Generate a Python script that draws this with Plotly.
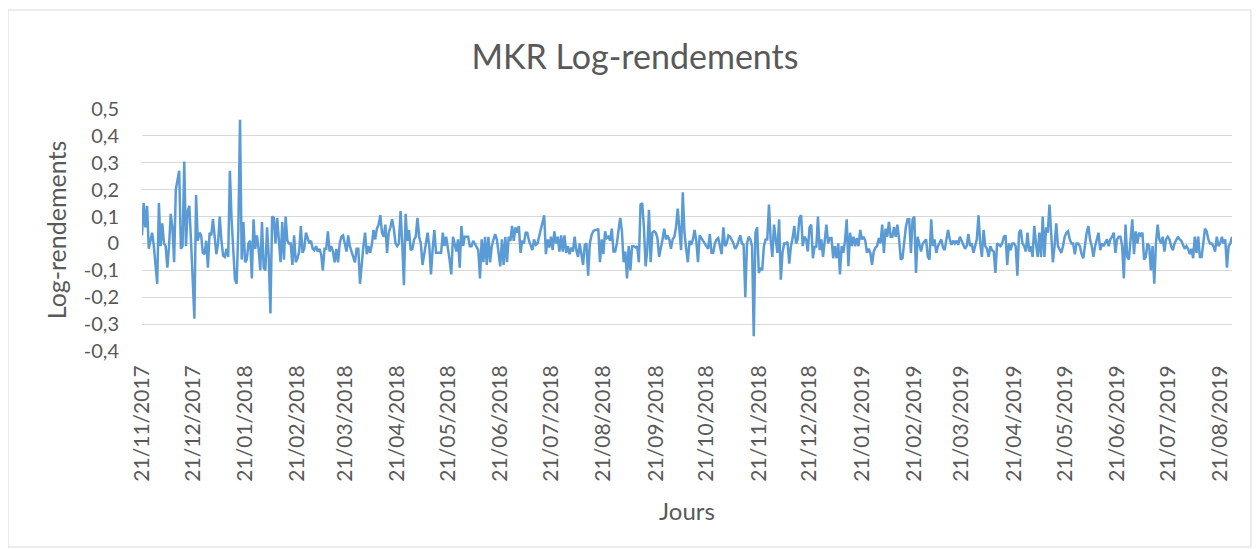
import pandas as pd
import plotly.graph_objects as go

# ---------------- data ----------------
date_debut = "2017-11-21"

log_rend_p1 = [0.03, 0.15, 0.06, 0.14, -0.02, 0.01, 0.04, -0.01, -0.09, -0.15,
               0.15, -0.01, 0.075, 0.0, -0.01, -0.09, -0.01, 0.11, 0.06, -0.07,
               0.2, 0.24, 0.27, -0.02, -0.01, 0.305, -0.01, 0.12, 0.14, 0.01,
               -0.16, -0.28, 0.18, 0.01, 0.04, 0.03, -0.035, -0.04, 0.01, -0.09,
               0.04, 0.03, 0.09, 0.01, -0.04, 0.0, 0.1, 0.01, -0.045, -0.05,
               -0.02, -0.05, 0.27, 0.09, -0.02, -0.135, -0.15, 0.05, 0.46, -0.06,
               0.08, -0.07, -0.06, 0.0, 0.01]
log_rend_p2 = [-0.13, 0.09, -0.02, 0.03, -0.02, -0.1, 0.08, -0.09, -0.1, 0.06,
               -0.05, -0.26, 0.1, 0.095, 0.0, 0.095, -0.01, -0.07, 0.08, -0.06,
               0.1, 0.01, 0.0, 0.0, -0.08, 0.03, -0.07, -0.055, -0.03, 0.065,
               -0.035, -0.02, 0.04, 0.02, 0.0, 0.01, -0.02, -0.025, -0.01, -0.03,
               -0.02, -0.04, -0.1, -0.02, -0.02, 0.045, -0.03, -0.01, -0.03, -0.07,
               -0.02, -0.07, 0.0, 0.025, 0.03, 0.0, -0.03, 0.03, -0.01, -0.03,
               -0.05, -0.07, -0.02, -0.02, -0.15]
log_rend_p3 = [-0.06, -0.01, 0.04, -0.04, -0.01, -0.035, -0.005, 0.05, 0.015, 0.055,
               0.07, 0.105, 0.04, 0.025, 0.07, -0.035, 0.04, 0.06, 0.09, 0.055,
               0.0, -0.01, 0.0, 0.12, 0.0, -0.155, 0.11, 0.01, 0.05, -0.025,
               -0.02, 0.015, 0.025, 0.095, 0.025, 0.0, -0.08, -0.035, 0.015, 0.04,
               -0.01, -0.115, -0.02, 0.05, -0.035, -0.035, -0.035, -0.035, 0.04, -0.01,
               0.025, -0.01, -0.06, -0.115, 0.025, 0.0, -0.03, 0.015, -0.09, 0.065,
               -0.01, 0.025, 0.025, 0.025, -0.01]
log_rend_p4 = [-0.01, 0.01, 0.0, -0.01, -0.025, -0.13, 0.015, -0.07, 0.025, -0.08,
               0.025, -0.07, -0.01, 0.015, 0.035, 0.015, -0.03, -0.085, 0.015, -0.08,
               0.025, -0.07, 0.025, 0.01, 0.065, 0.01, 0.06, 0.04, 0.065, -0.035,
               0.01, 0.0, 0.04, 0.04, 0.01, -0.005, -0.025, 0.015, -0.005, 0.0,
               0.025, 0.045, 0.07, 0.105, -0.04, 0.015, -0.015, 0.025, -0.025, 0.045,
               0.0, 0.025, -0.03, 0.03, -0.03, 0.03, -0.035, -0.01, -0.04, -0.015,
               -0.03, 0.025, -0.025, -0.05, 0.0]
log_rend_p5 = [-0.035, -0.08, -0.005, 0.0, -0.12, 0.0, 0.03, 0.045, 0.05, 0.05,
               0.055, -0.07, 0.015, -0.04, 0.045, 0.02, 0.025, 0.01, 0.055, -0.03,
               -0.03, 0.0, 0.05, 0.095, 0.045, -0.07, -0.03, -0.13, -0.01, -0.1,
               -0.01, -0.01, -0.015, -0.01, -0.07, 0.145, 0.15, 0.06, -0.085, -0.025,
               0.125, -0.07, 0.04, 0.045, 0.04, 0.02, -0.05, -0.02, 0.015, 0.055,
               0.015, 0.03, 0.015, -0.02, 0.015, 0.025, 0.06, 0.13, 0.04, -0.025,
               0.19, 0.04, -0.02, -0.07, 0.01]
log_rend_p6 = [-0.005, 0.015, 0.05, 0.01, -0.07, 0.03, 0.02, 0.01, 0.0, -0.015,
               -0.02, 0.035, -0.035, -0.035, 0.0, 0.015, 0.02, -0.01, -0.04, 0.06,
               -0.01, 0.0, 0.03, 0.025, 0.015, 0.0, -0.02, -0.01, 0.01, 0.03,
               0.0, -0.005, -0.2, 0.0, 0.025, 0.015, -0.01, -0.345, 0.04, 0.06,
               -0.11, -0.09, -0.1, -0.01, 0.015, 0.015, 0.145, 0.015, -0.05, 0.07,
               0.015, -0.035, 0.09, -0.135, -0.035, 0.0, 0.0, 0.005, -0.075, -0.01,
               0.02, 0.065, 0.0, 0.015, 0.095]
log_rend_p7 = [0.105, -0.01, 0.025, 0.015, -0.03, 0.06, 0.07, -0.055, -0.01, -0.015,
               0.1, -0.025, 0.015, -0.05, 0.02, 0.07, 0.0, 0.02, 0.02, -0.055,
               -0.01, -0.055, 0.0, -0.115, -0.01, -0.035, 0.01, 0.09, -0.085, 0.04,
               -0.01, 0.025, -0.01, 0.02, -0.01, 0.05, 0.015, 0.025, 0.01, -0.035,
               -0.02, -0.035, -0.08, -0.03, -0.015, -0.01, 0.02, 0.0, 0.07, -0.035,
               0.055, 0.025, 0.08, 0.025, 0.025, 0.06, 0.025, 0.07, 0.015, -0.06,
               -0.055, 0.0, 0.06, 0.09, 0.09]
log_rend_p8 = [-0.035, 0.09, 0.1, -0.11, 0.025, -0.01, -0.03, 0.0, 0.01, 0.015,
               -0.05, -0.06, 0.09, -0.01, 0.015, -0.035, -0.01, 0.0, 0.015, -0.015,
               -0.025, 0.015, 0.05, 0.015, -0.005, 0.01, 0.0, 0.01, -0.005, 0.025,
               0.01, -0.005, -0.02, -0.01, 0.035, -0.01, 0.0, -0.035, -0.01, 0.015,
               0.105, 0.0, -0.05, 0.05, -0.01, -0.02, -0.05, -0.01, -0.025, -0.03,
               -0.11, 0.0, -0.005, -0.01, 0.0, 0.025, 0.03, -0.08, 0.0, -0.025,
               0.0, 0.0, -0.01, -0.12, 0.04]
log_rend_p9 = [0.05, 0.0, -0.01, -0.03, 0.04, -0.03, -0.01, -0.05, 0.065, 0.0,
               -0.05, 0.04, -0.05, 0.1, -0.05, 0.06, 0.04, 0.145, 0.025, -0.07,
               -0.01, 0.075, -0.01, -0.025, -0.035, -0.01, 0.025, 0.04, 0.045, 0.015,
               0.0, 0.0, -0.04, 0.0, 0.0, -0.01, -0.04, -0.055, 0.0, 0.04,
               0.065, 0.015, -0.01, -0.05, -0.01, 0.015, 0.04, -0.025, 0.0, -0.01,
               0.0, 0.015, -0.01, 0.015, 0.025, 0.04, -0.035, 0.015, 0.025, 0.025,
               -0.01, -0.13, 0.07, -0.05, -0.06]
log_rend_p10 = [0.015, 0.09, -0.04, 0.045, 0.0, 0.04, 0.03, 0.04, -0.06, -0.05,
                0.0, -0.01, -0.1, -0.01, -0.15, 0.0, 0.07, 0.015, 0.0, 0.025,
                -0.03, 0.015, 0.025, 0.015, -0.01, -0.025, 0.0, 0.015, 0.025, 0.015,
                0.01, -0.005, -0.02, -0.01, -0.02, -0.04, -0.02, -0.055, 0.025, -0.035,
                0.025, -0.05, -0.05, 0.0, 0.055, 0.045, 0.015, 0.0, 0.0, -0.01,
                -0.03, 0.025, -0.01, 0.0, 0.025, 0.0, 0.015, -0.09, -0.01, 0.0,
                0.025]

tick_labels = ["21/11/2017", "21/12/2017", "21/01/2018", "21/02/2018", "21/03/2018",
               "21/04/2018", "21/05/2018", "21/06/2018", "21/07/2018", "21/08/2018",
               "21/09/2018", "21/10/2018", "21/11/2018", "21/12/2018", "21/01/2019",
               "21/02/2019", "21/03/2019", "21/04/2019", "21/05/2019", "21/06/2019",
               "21/07/2019", "21/08/2019"]
y_ticks = [-0.4, -0.3, -0.2, -0.1, 0.0, 0.1, 0.2, 0.3, 0.4, 0.5]
y_tick_labels = ["-0,4", "-0,3", "-0,2", "-0,1", "0", "0,1", "0,2", "0,3", "0,4", "0,5"]

# ---------------- build ----------------
values = (log_rend_p1 + log_rend_p2 + log_rend_p3 + log_rend_p4 + log_rend_p5 +
          log_rend_p6 + log_rend_p7 + log_rend_p8 + log_rend_p9 + log_rend_p10)
dates = pd.date_range(date_debut, periods=len(values), freq="D")
tick_dates = pd.to_datetime(tick_labels, format="%d/%m/%Y")

TXT = "#595959"
GRID = "#D9D9D9"
FONT = "Lato"

# the page body has an 8px margin, so the figure is sized to fit inside it
W, H = 1252, 541
ML, MR, MT, MB = 134, 28, 101, 198
PW, PH = W - ML - MR, H - MT - MB

fig = go.Figure()
fig.add_trace(go.Scatter(
    x=dates, y=values, mode="lines",
    line=dict(color="#5B9BD5", width=2.5),
    showlegend=False,
))

fig.update_layout(
    width=W, height=H,
    paper_bgcolor="white", plot_bgcolor="white",
    margin=dict(l=ML, r=MR, t=MT, b=MB),
    font=dict(family=FONT, color=TXT),
    title=dict(text="MKR Log-rendements", xref="paper", x=(627 - ML) / PW,
               xanchor="center", yref="container", y=1 - 49 / H, yanchor="middle",
               font=dict(family=FONT, size=34, color=TXT)),
    xaxis=dict(
        type="date",
        range=[dates[0], dates[-1]],
        tickmode="array", tickvals=tick_dates, ticktext=tick_labels,
        tickangle=-90,
        tickfont=dict(family=FONT, size=21, color=TXT),
        showgrid=False, showline=False, zeroline=False,
        ticks="", ticklabelstandoff=9,
        title=dict(text="Jours", font=dict(family=FONT, size=24, color=TXT),
                   standoff=22),
    ),
    yaxis=dict(
        range=[-0.4, 0.5],
        tickmode="array", tickvals=y_ticks, ticktext=y_tick_labels,
        tickfont=dict(family=FONT, size=20, color=TXT),
        showgrid=True, gridcolor=GRID, gridwidth=1,
        zeroline=True, zerolinecolor=GRID, zerolinewidth=1,
        showline=False, ticks="", ticklabelstandoff=22,
        title=dict(text="Log-rendements", font=dict(family=FONT, size=25, color=TXT),
                   standoff=10),
    ),
    shapes=[dict(type="rect", xref="paper", yref="paper",
                 x0=(0 - ML) / PW, x1=(1243 - ML) / PW,
                 y0=(MT + PH - 539) / PH, y1=(MT + PH - 2) / PH,
                 line=dict(color=GRID, width=1), fillcolor="rgba(0,0,0,0)",
                 layer="below")],
)

fig.write_html("out.html")
